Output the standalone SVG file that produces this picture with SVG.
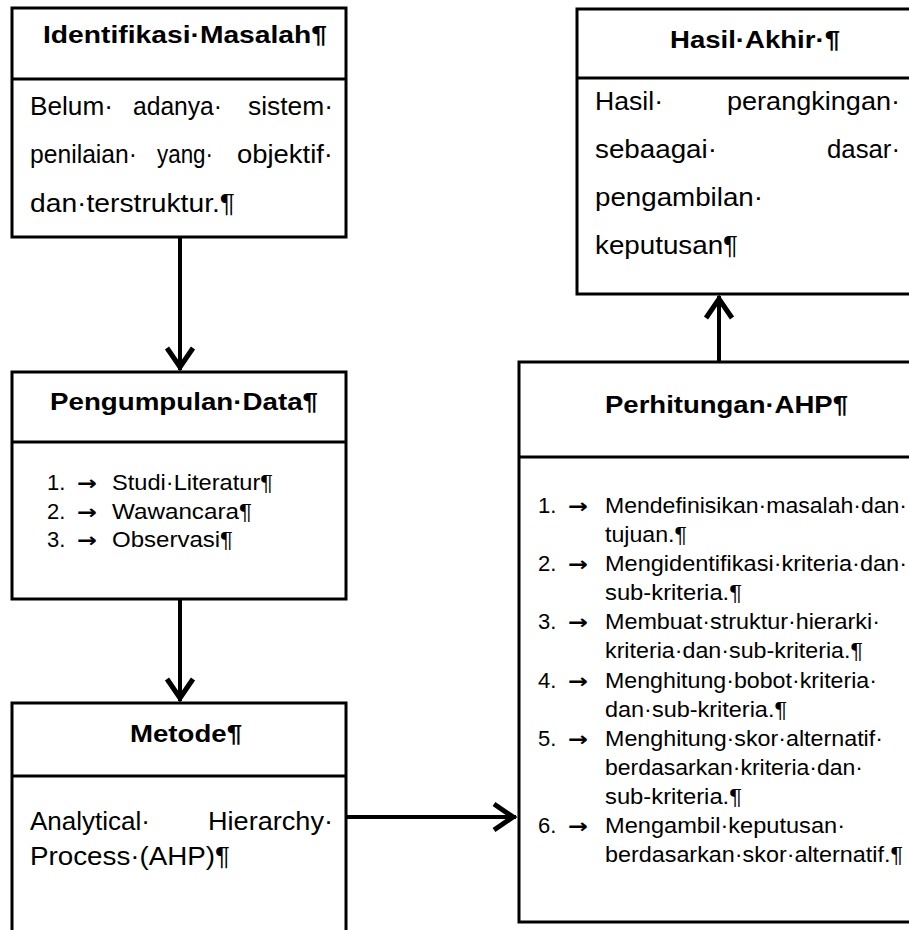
<svg xmlns="http://www.w3.org/2000/svg" width="909" height="930" viewBox="0 0 909 930">
<style>
.box{fill:#fff;stroke:#000;stroke-width:3}
.dv{stroke:#000;stroke-width:3}
text{font-family:"Liberation Sans",Arial,"DejaVu Sans",sans-serif;fill:#000}
.t{font-size:24px;font-weight:bold}
.b{font-size:25px}
.l{font-size:22px}
.ar{font-family:"DejaVu Sans",sans-serif;font-size:20px;font-weight:bold}
.conn{stroke:#000;stroke-width:4;fill:none;marker-end:url(#ah)}
</style>
<defs>
<marker id="ah" markerUnits="userSpaceOnUse" viewBox="-30 -16 34 32" markerWidth="34" markerHeight="32" refX="0" refY="0" orient="auto">
<path d="M-22,-13 L-3,0 L-22,13" fill="none" stroke="#000" stroke-width="5" stroke-linejoin="miter"/>
</marker>
</defs>
<rect width="909" height="930" fill="#fff"/>

<g id="connectors">
<line class="conn" x1="180" y1="237" x2="180" y2="370"/>
<line class="conn" x1="180" y1="599" x2="180" y2="701"/>
<line class="conn" x1="346" y1="817" x2="516" y2="817"/>
<line class="conn" x1="719" y1="362" x2="719" y2="296"/>
</g>

<g id="identifikasi">
<rect class="box" x="12" y="8" width="334" height="229"/>
<line class="dv" x1="12" y1="79" x2="346" y2="79"/>
<text class="t" x="43" y="43" textLength="284" lengthAdjust="spacingAndGlyphs">Identifikasi·Masalah¶</text>
<text class="b" x="30" y="115" textLength="83" lengthAdjust="spacingAndGlyphs">Belum·</text>
<text class="b" x="133" y="115" textLength="89" lengthAdjust="spacingAndGlyphs">adanya·</text>
<text class="b" x="248" y="115" textLength="85" lengthAdjust="spacingAndGlyphs">sistem·</text>
<text class="b" x="30" y="163" textLength="107" lengthAdjust="spacingAndGlyphs">penilaian·</text>
<text class="b" x="157" y="163" textLength="56" lengthAdjust="spacingAndGlyphs">yang·</text>
<text class="b" x="237" y="163" textLength="96" lengthAdjust="spacingAndGlyphs">objektif·</text>
<text class="b" x="30" y="212" textLength="205" lengthAdjust="spacingAndGlyphs">dan·terstruktur.¶</text>
</g>

<g id="pengumpulan">
<rect class="box" x="12" y="372" width="334" height="227"/>
<line class="dv" x1="12" y1="442" x2="346" y2="442"/>
<text class="t" x="50" y="410" textLength="268" lengthAdjust="spacingAndGlyphs">Pengumpulan·Data¶</text>
<text class="l" x="47" y="490">1.</text><text class="ar" x="77" y="490" textLength="20" lengthAdjust="spacingAndGlyphs">→</text>
<text class="l" x="112" y="490" textLength="161" lengthAdjust="spacingAndGlyphs">Studi·Literatur¶</text>
<text class="l" x="47" y="519">2.</text><text class="ar" x="77" y="519" textLength="20" lengthAdjust="spacingAndGlyphs">→</text>
<text class="l" x="112" y="519" textLength="140" lengthAdjust="spacingAndGlyphs">Wawancara¶</text>
<text class="l" x="47" y="547">3.</text><text class="ar" x="77" y="547" textLength="20" lengthAdjust="spacingAndGlyphs">→</text>
<text class="l" x="112" y="547" textLength="121" lengthAdjust="spacingAndGlyphs">Observasi¶</text>
</g>

<g id="metode">
<rect class="box" x="12" y="703" width="334" height="260"/>
<line class="dv" x1="12" y1="776" x2="346" y2="776"/>
<text class="t" x="130" y="742" textLength="112" lengthAdjust="spacingAndGlyphs">Metode¶</text>
<text class="b" x="30" y="830" textLength="120" lengthAdjust="spacingAndGlyphs">Analytical·</text>
<text class="b" x="208" y="830" textLength="125" lengthAdjust="spacingAndGlyphs">Hierarchy·</text>
<text class="b" x="30" y="865" textLength="200" lengthAdjust="spacingAndGlyphs">Process·(AHP)¶</text>
</g>

<g id="perhitungan">
<rect class="box" x="519" y="362" width="420" height="560"/>
<line class="dv" x1="519" y1="457" x2="939" y2="457"/>
<text class="t" x="605" y="413" textLength="243" lengthAdjust="spacingAndGlyphs">Perhitungan·AHP¶</text>
<text class="l" x="538" y="513">1.</text><text class="ar" x="568" y="513" textLength="20" lengthAdjust="spacingAndGlyphs">→</text>
<text class="l" x="605" y="513" textLength="302" lengthAdjust="spacingAndGlyphs">Mendefinisikan·masalah·dan·</text>
<text class="l" x="605" y="542" textLength="82" lengthAdjust="spacingAndGlyphs">tujuan.¶</text>
<text class="l" x="538" y="571">2.</text><text class="ar" x="568" y="571" textLength="20" lengthAdjust="spacingAndGlyphs">→</text>
<text class="l" x="605" y="571" textLength="302" lengthAdjust="spacingAndGlyphs">Mengidentifikasi·kriteria·dan·</text>
<text class="l" x="605" y="600" textLength="137" lengthAdjust="spacingAndGlyphs">sub-kriteria.¶</text>
<text class="l" x="538" y="629">3.</text><text class="ar" x="568" y="629" textLength="20" lengthAdjust="spacingAndGlyphs">→</text>
<text class="l" x="605" y="629" textLength="275" lengthAdjust="spacingAndGlyphs">Membuat·struktur·hierarki·</text>
<text class="l" x="605" y="658" textLength="258" lengthAdjust="spacingAndGlyphs">kriteria·dan·sub-kriteria.¶</text>
<text class="l" x="538" y="688">4.</text><text class="ar" x="568" y="688" textLength="20" lengthAdjust="spacingAndGlyphs">→</text>
<text class="l" x="605" y="688" textLength="272" lengthAdjust="spacingAndGlyphs">Menghitung·bobot·kriteria·</text>
<text class="l" x="605" y="717" textLength="182" lengthAdjust="spacingAndGlyphs">dan·sub-kriteria.¶</text>
<text class="l" x="538" y="746">5.</text><text class="ar" x="568" y="746" textLength="20" lengthAdjust="spacingAndGlyphs">→</text>
<text class="l" x="605" y="746" textLength="278" lengthAdjust="spacingAndGlyphs">Menghitung·skor·alternatif·</text>
<text class="l" x="605" y="775" textLength="258" lengthAdjust="spacingAndGlyphs">berdasarkan·kriteria·dan·</text>
<text class="l" x="605" y="804" textLength="137" lengthAdjust="spacingAndGlyphs">sub-kriteria.¶</text>
<text class="l" x="538" y="833">6.</text><text class="ar" x="568" y="833" textLength="20" lengthAdjust="spacingAndGlyphs">→</text>
<text class="l" x="605" y="833" textLength="240" lengthAdjust="spacingAndGlyphs">Mengambil·keputusan·</text>
<text class="l" x="605" y="862" textLength="298" lengthAdjust="spacingAndGlyphs">berdasarkan·skor·alternatif.¶</text>
</g>

<g id="hasil">
<rect class="box" x="577" y="9" width="360" height="285"/>
<line class="dv" x1="577" y1="78" x2="937" y2="78"/>
<text class="t" x="670" y="48" textLength="170" lengthAdjust="spacingAndGlyphs">Hasil·Akhir·¶</text>
<text class="b" x="595" y="110" textLength="68" lengthAdjust="spacingAndGlyphs">Hasil·</text>
<text class="b" x="727" y="110" textLength="173" lengthAdjust="spacingAndGlyphs">perangkingan·</text>
<text class="b" x="595" y="158" textLength="122" lengthAdjust="spacingAndGlyphs">sebaagai·</text>
<text class="b" x="827" y="158" textLength="73" lengthAdjust="spacingAndGlyphs">dasar·</text>
<text class="b" x="595" y="206" textLength="168" lengthAdjust="spacingAndGlyphs">pengambilan·</text>
<text class="b" x="595" y="254" textLength="143" lengthAdjust="spacingAndGlyphs">keputusan¶</text>
</g>
</svg>
